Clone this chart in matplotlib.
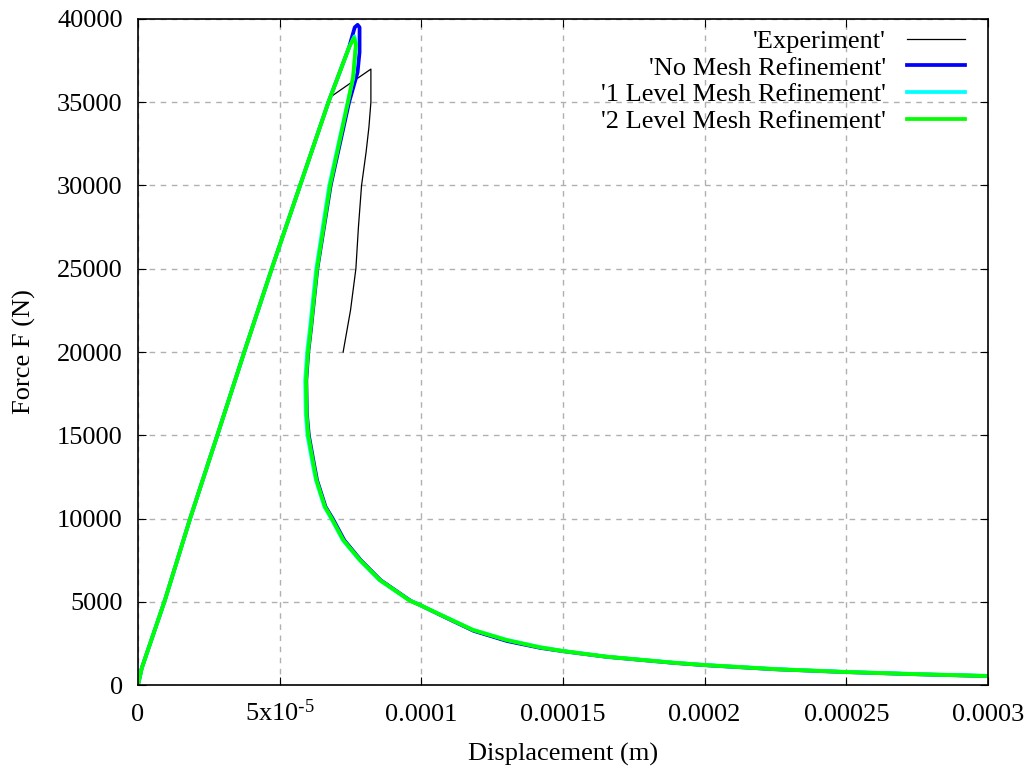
import matplotlib
matplotlib.use("Agg")
import matplotlib.pyplot as plt
import numpy as np

plt.rcParams['font.family'] = ['Liberation Serif', 'DejaVu Serif']
plt.rcParams['mathtext.default'] = 'regular'

# displacement in units of 1e-5 m, force in N
exp_d = [6.78, 7.5, 8.22, 8.22, 8.15, 8.05, 7.89, 7.78, 7.69, 7.5, 7.24]
exp_f = [35300, 36150, 36990, 35000, 33500, 32000, 30000, 27500, 25000, 22500, 20000]

blue_d = [0, 0.13, 0.95, 1.84, 2.8, 3.75, 4.72, 5.72, 6.72, 7.45, 7.65, 7.75, 7.82, 7.82, 7.75, 7.45,
          6.8, 6.33, 6.1, 6.01, 5.94, 5.96, 6.03, 6.21, 6.32, 6.62, 6.87, 7.28, 7.86, 8.56, 9.62,
          9.97, 10.68, 11.85, 13.03, 14.2, 15.0, 16.55, 18.9, 20.0, 22.5, 25.0, 27.5, 30.0]
blue_f = [0, 1000, 5100, 10000, 15000, 20000, 25000, 30000, 35000, 38300, 39500, 39650, 39500, 38000, 36800, 35000,
          30000, 25000, 21300, 20000, 18300, 16300, 15000, 13300, 12300, 10700, 10000, 8700, 7500, 6300, 5060,
          4790, 4200, 3250, 2640, 2230, 2030, 1690, 1330, 1190, 945, 775, 645, 535]

cyan_d = [0, 0.13, 0.95, 1.84, 2.8, 3.75, 4.72, 5.72, 6.72, 7.45, 7.64, 7.7, 7.6, 7.4,
          6.75, 6.29, 6.06, 5.97, 5.9, 5.92, 5.98, 6.16, 6.28, 6.58, 6.82, 7.23, 7.82, 8.52, 9.58,
          9.94, 10.65, 11.82, 13.0, 14.18, 15.0, 16.53, 18.88, 20.0, 22.5, 25.0, 27.5, 30.0]
cyan_f = [0, 1000, 5100, 10000, 15000, 20000, 25000, 30000, 35000, 38300, 38950, 38500, 36500, 35000,
          30000, 25000, 21300, 20000, 18300, 16300, 15000, 13300, 12300, 10700, 10000, 8700, 7500, 6300, 5080,
          4820, 4250, 3320, 2720, 2280, 2050, 1710, 1350, 1210, 960, 790, 660, 550]

green_d = [0, 0.13, 0.95, 1.84, 2.8, 3.75, 4.72, 5.72, 6.72, 7.45, 7.62, 7.69, 7.59, 7.41,
           6.78, 6.32, 6.09, 6.0, 5.93, 5.95, 6.01, 6.19, 6.3, 6.6, 6.84, 7.25, 7.84, 8.54, 9.6,
           9.95, 10.66, 11.83, 13.01, 14.19, 15.0, 16.54, 18.89, 20.0, 22.5, 25.0, 27.5, 30.0]
green_f = [0, 1000, 5100, 10000, 15000, 20000, 25000, 30000, 35000, 38300, 38860, 38500, 36500, 35000,
           30000, 25000, 21300, 20000, 18300, 16300, 15000, 13300, 12300, 10700, 10000, 8700, 7500, 6300, 5060,
           4805, 4230, 3300, 2700, 2260, 2040, 1700, 1340, 1200, 950, 780, 650, 540]

x_ticks = [0, 5e-5, 1e-4, 1.5e-4, 2e-4, 2.5e-4, 3e-4]
x_labels = ['0', r'5x10$^{\text{-}5}$', '0.0001', '0.00015', '0.0002', '0.00025', '0.0003']
y_ticks = [0, 5000, 10000, 15000, 20000, 25000, 30000, 35000, 40000]

fig = plt.figure(figsize=(10.33, 7.75), dpi=100)
ax = fig.add_axes([0.1336, 0.1161, 0.8228, 0.8594])

s = 1e-5
ax.plot(np.array(exp_d) * s, exp_f, color='black', lw=0.9, label="'Experiment'")
ax.plot(np.array(blue_d) * s, blue_f, color='#0000ff', lw=2.7, label="'No Mesh Refinement'")
ax.plot(np.array(cyan_d) * s, cyan_f, color='#00ffff', lw=2.7, label="'1 Level Mesh Refinement'")
ax.plot(np.array(green_d) * s, green_f, color='#00ff00', lw=2.7, label="'2 Level Mesh Refinement'")

ax.set_xlim(0, 3e-4)
ax.set_ylim(0, 40000)
ax.set_xticks(x_ticks)
ax.set_xticklabels(x_labels, va='baseline')
ax.set_yticks(y_ticks)
ax.tick_params(direction='in', top=True, right=True, length=6, labelsize=19)
ax.tick_params(axis='x', pad=26)
ax.tick_params(axis='y', pad=11)
ax.grid(True, color='#b0b0b0', linestyle=(0, (4, 4)), lw=1)
for sp in ax.spines.values():
    sp.set_linewidth(1.2)

ax.set_xlabel('Displacement (m)', fontsize=19, labelpad=12)
ax.set_ylabel('Force F (N)', fontsize=19, labelpad=15)

ax.legend(loc='upper right', bbox_to_anchor=(0.9854, 1.0), frameon=False, markerfirst=False,
          fontsize=19, handlelength=2.2, labelspacing=0.12, borderaxespad=0, handletextpad=0.8)

plt.savefig('out.png', dpi=100)
plt.close()
